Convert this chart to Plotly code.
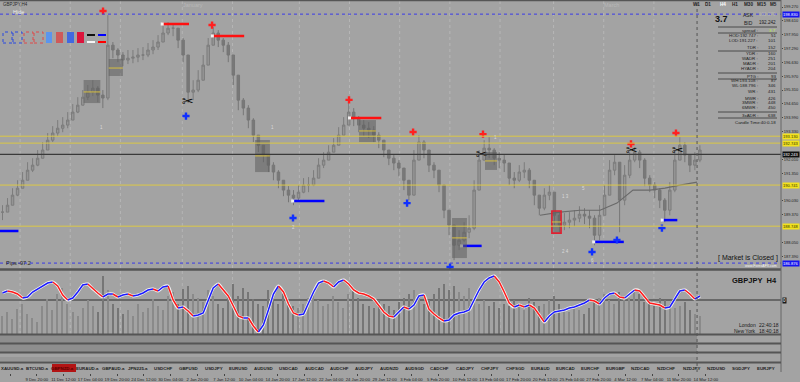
import plotly.graph_objects as go

W, H = 800, 382
PLOT_R = 781          # right edge of the plotting area (px)
BG = "#a3a3a3"
FONT = "Liberation Sans, Arial, sans-serif"

# ---------------- data ----------------
# one candle = 3 H4 bars
closes = [189.49, 189.82, 190.30, 190.63, 191.01, 191.49, 191.73, 192.06, 192.45, 192.92,
          193.26, 193.49, 193.64, 193.88, 194.26, 194.59, 194.97, 195.21, 195.40, 195.07,
          194.93, 197.45, 197.22, 196.98, 196.74, 196.83, 196.88, 196.98, 196.98, 197.22,
          197.36, 197.60, 198.03, 198.26, 198.26, 197.69, 196.98, 195.21, 195.31, 195.78,
          196.50, 197.45, 198.03, 197.69, 197.45, 196.98, 196.02, 194.83, 194.45, 193.88,
          193.16, 192.68, 192.21, 191.73, 191.40, 191.01, 190.54, 190.30, 190.16, 190.44,
          190.78, 190.78, 191.11, 191.73, 191.97, 192.35, 192.68, 193.16, 193.64, 194.26,
          193.97, 193.64, 193.49, 193.40, 193.16, 192.92, 192.45, 192.06, 191.83, 191.59,
          191.01, 190.30, 191.97, 192.83, 192.45, 191.73, 191.49, 190.78, 189.58, 188.87,
          187.91, 188.15, 188.53, 188.72, 190.54, 191.97, 192.54, 192.45, 192.06, 191.97,
          191.83, 191.11, 191.01, 191.40, 191.49, 191.01, 190.30, 189.68, 190.30, 190.44,
          189.34, 188.87, 189.01, 189.11, 189.20, 189.39, 189.30, 189.20, 188.39, 189.34,
          190.30, 191.49, 191.87, 190.06, 191.25, 191.97, 192.35, 191.97, 191.11, 190.78,
          190.54, 190.06, 189.58, 190.54, 191.97, 192.68, 192.21, 191.73, 191.97, 192.45]
highs = [189.82, 190.16, 190.63, 191.01, 191.40, 191.87, 192.06, 192.45, 192.83, 193.26,
         193.59, 193.88, 194.02, 194.26, 194.64, 194.97, 195.31, 195.55, 195.78, 195.50,
         195.31, 198.88, 197.60, 197.31, 197.12, 197.22, 197.22, 197.31, 197.36, 197.55,
         197.69, 197.93, 198.36, 198.55, 198.50, 198.26, 197.79, 196.98, 195.78, 196.26,
         196.98, 197.79, 198.31, 198.17, 197.79, 197.60, 196.98, 195.78, 194.93, 194.59,
         193.97, 193.16, 192.68, 192.21, 191.87, 191.49, 191.01, 190.73, 190.54, 190.78,
         191.11, 191.16, 191.49, 192.06, 192.35, 192.68, 193.02, 193.54, 194.02, 194.69,
         194.45, 194.07, 193.88, 193.78, 193.59, 193.30, 192.92, 192.45, 192.21, 191.97,
         191.49, 190.92, 192.45, 193.16, 192.92, 192.35, 191.87, 191.49, 190.78, 189.58,
         188.87, 188.63, 189.01, 189.34, 191.01, 192.45, 192.92, 193.06, 192.54, 192.35,
         192.21, 191.73, 191.40, 191.73, 191.87, 191.59, 191.01, 190.30, 190.63, 190.78,
         190.30, 189.49, 189.44, 189.49, 189.58, 189.77, 189.68, 189.58, 189.34, 189.82,
         190.78, 191.97, 192.21, 191.73, 191.73, 192.35, 192.59, 192.45, 192.06, 191.25,
         190.92, 190.63, 190.16, 190.92, 192.45, 193.06, 192.83, 192.21, 192.35, 192.68]
lows = [189.11, 189.49, 189.82, 190.25, 190.63, 191.01, 191.40, 191.68, 192.06, 192.45,
        192.83, 193.11, 193.30, 193.49, 193.88, 194.21, 194.59, 194.83, 195.02, 194.73,
        194.45, 194.83, 196.83, 196.64, 196.45, 196.55, 196.59, 196.64, 196.74, 196.88,
        197.02, 197.22, 197.69, 197.93, 197.88, 197.31, 196.64, 194.69, 194.83, 195.21,
        196.02, 196.74, 197.60, 197.36, 197.12, 196.64, 195.55, 194.35, 194.11, 193.49,
        192.83, 192.35, 191.87, 191.40, 191.01, 190.63, 190.25, 189.96, 189.82, 190.06,
        190.39, 190.44, 190.73, 191.25, 191.59, 191.97, 192.35, 192.78, 193.26, 193.88,
        193.59, 193.30, 193.11, 193.02, 192.83, 192.54, 192.11, 191.73, 191.49, 191.20,
        190.54, 190.06, 191.01, 192.35, 192.06, 191.40, 191.11, 190.44, 189.20, 188.39,
        187.20, 187.68, 188.06, 188.25, 188.63, 190.78, 191.97, 192.06, 191.73, 191.59,
        191.40, 190.78, 190.63, 190.92, 191.11, 190.63, 189.82, 189.34, 189.58, 190.06,
        188.87, 188.53, 188.63, 188.72, 188.82, 189.01, 188.92, 188.72, 187.91, 188.15,
        189.34, 190.30, 191.25, 188.53, 189.82, 191.11, 191.87, 191.59, 190.73, 190.44,
        190.16, 189.68, 189.01, 189.34, 190.44, 191.97, 191.87, 191.40, 191.49, 191.87]
osc_values = [7, 9, 8, 6, 2, 3, 8, 11, 14, 17, 18, 14, 5, 0, 2, 8, 15, 16, 11, 7,
              3, 6, 6, 3, 5, 6, 4, 5, 7, 10, 11, 9, 13, 14, 0, -8, -7, -11, -16, -15,
              -13, 0, 12, 16, 10, 4, -6, -16, -18, -18, -26, -32, -25, -10, 6, 14, 8, -4, -13, -15,
              -14, -3, 8, 17, 19, 17, 13, 18, 20, 16, 10, 7, 6, 4, 1, -5, -12, -16, -17, -12,
              -7, -9, -5, 4, 5, -9, -14, -18, -21, -20, -15, -13, -12, -10, 0, 10, 18, 22, 24, 18,
              8, -3, -7, -5, -7, -5, -8, -15, -22, -16, -12, -11, -10, -8, -7, -5, -3, 0, -1, -4,
              2, 6, 7, 3, 2, 6, 10, 9, 3, -3, -4, -5, -8, -7, 1, 9, 10, 6, 1, 4]
volumes = [18, 22, 15, 25, 30, 20, 16, 12, 28, 35, 24, 40, 46, 30, 22, 18, 26, 34, 28, 22,
           58, 44, 30, 26, 20, 24, 18, 30, 22, 26, 35, 28, 24, 38, 42, 30, 45, 48, 40, 36,
           32, 44, 38, 30, 26, 40, 50, 38, 46, 42, 35, 30, 28, 44, 36, 30, 40, 32, 28, 26,
           30, 36, 42, 34, 28, 30, 38, 32, 26, 40, 44, 36, 30, 28, 26, 34, 30, 28, 24, 32,
           36, 40, 44, 38, 30, 34, 40, 46, 50, 44, 48, 42, 38, 46, 36, 30, 34, 28, 32, 26,
           30, 28, 34, 30, 24, 36, 32, 28, 30, 34, 38, 30, 26, 22, 28, 24, 20, 26, 32, 36,
           40, 34, 30, 42, 38, 36, 44, 40, 32, 30, 28, 36, 34, 30, 26, 28, 32, 24, 20, 18]

CANDLE_BARS = 3
date_labels = ["5 Dec 2024", "9 Dec 20:00", "11 Dec 12:00", "17 Dec 04:00", "19 Dec 20:00",
               "24 Dec 12:00", "30 Dec 04:00", "2 Jan 20:00", "7 Jan 12:00", "10 Jan 04:00",
               "14 Jan 20:00", "17 Jan 12:00", "22 Jan 04:00", "24 Jan 20:00", "29 Jan 12:00",
               "3 Feb 04:00", "5 Feb 20:00", "10 Feb 12:00", "13 Feb 04:00", "17 Feb 20:00",
               "20 Feb 12:00", "25 Feb 04:00", "27 Feb 20:00", "4 Mar 12:00", "7 Mar 04:00",
               "11 Mar 20:00", "14 Mar 12:00"]
date_bars = [6 + 16 * k for k in range(len(date_labels))]
symbols = ["XAUUSD.a", "BTCUSD.a", "GBPNZD.a", "EURAUD.a", "GBPAUD.a", "JPN225.a", "USDCHF",
           "GBPUSD", "USDJPY", "EURUSD", "AUDUSD", "USDCAD", "AUDCAD", "AUDCHF", "AUDJPY",
           "AUDNZD", "AUDSGD", "CADCHF", "CADJPY", "CHFJPY", "CHFSGD", "EURAUD", "EURCAD",
           "EURCHF", "EURGBP", "NZDCAD", "NZDCHF", "NZDJPY", "NZDUSD", "SGDJPY", "EURJPY"]
active_symbol = "GBPNZD.a"
price_ticks = [186.73 + 0.66 * k for k in range(20)]

blue_levels = [198.93, 187.06]
blue_texts = ["198.830", "186.876"]
yellow_levels = [193.11, 192.78, 190.78, 188.82]
yellow_texts = ["193.130", "192.743", "190.741", "188.748"]
bid_level = 192.24
bid_text = "192.243"

res_price = [198.46, 197.89, 193.98]
res_x0 = [97, 127, 209]
res_x1 = [113, 146, 228]
sup_price = [188.59, 190.02, 187.88, 188.07, 189.11]
sup_x0 = [0, 175, 276, 355, 396]
sup_x1 = [11, 194, 288, 373, 405]
peak_x = [61.6, 126.8, 208.7, 247, 288.8, 377.3, 404.2]
peak_p = [199.08, 198.41, 194.84, 193.31, 193.21, 192.74, 193.26]
trough_x = [111.2, 175.2, 243.4, 269.1, 354, 368.9, 395.8]
trough_p = [194.07, 189.21, 189.92, 186.87, 187.59, 188.16, 188.73]
cut_x = [112.4, 288.2, 377.9, 405.4]
cut_p = [194.74, 192.21, 192.36, 192.40]
box_x0 = [50, 65, 152.5, 214.7, 270.3, 290, 330]
box_x1 = [60, 73.5, 161.4, 224.8, 279.2, 297.2, 335.5]
box_top = [195.79, 196.79, 192.93, 193.88, 189.21, 192.36, 189.54]
box_bot = [194.69, 195.98, 191.40, 192.83, 187.30, 191.50, 188.49]
box_mid = [195.22, 196.36, 192.17, 193.36, 188.26, 191.93, 189.02]
box_alert = [False, False, False, False, False, False, True]
ma_x = [322.9, 334.9, 346.8, 358.8, 368.9, 378.5, 388.7, 397.6, 406.6, 416.8]
ma_p = [189.34, 189.49, 189.58, 189.58, 189.92, 190.54, 190.54, 190.63, 190.78, 190.92]
week_sep_bars = [12, 42, 72, 109, 139, 179, 209, 239, 269, 299, 331, 361, 391]
now_bar = 416.8
X_BARS = 467

# ---------------- helpers ----------------
def px(x):
    return x / W


def py(y):
    return 1 - y / H


shapes = []
annotations = []


def rect(x0, y0, x1, y1, fill=None, line=None, lw=1, dash=None, layer="above"):
    d = dict(type="rect", xref="paper", yref="paper", x0=px(x0), x1=px(x1), y0=py(y1), y1=py(y0),
             fillcolor=fill if fill else "rgba(0,0,0,0)", layer=layer,
             line=dict(color=line if line else "rgba(0,0,0,0)", width=lw if line else 0))
    if dash:
        d["line"]["dash"] = dash
    shapes.append(d)


def hline(x0, x1, y, color, w=1, dash=None, layer="above"):
    d = dict(type="line", xref="paper", yref="paper", x0=px(x0), x1=px(x1), y0=py(y), y1=py(y),
             line=dict(color=color, width=w), layer=layer)
    if dash:
        d["line"]["dash"] = dash
    shapes.append(d)


def vline(x, y0, y1, color, w=1, dash=None, layer="above"):
    d = dict(type="line", xref="paper", yref="paper", x0=px(x), x1=px(x), y0=py(y0), y1=py(y1),
             line=dict(color=color, width=w), layer=layer)
    if dash:
        d["line"]["dash"] = dash
    shapes.append(d)


def text(x, y, s, size=6, color="#202020", xa="left", bold=False, bg=None, fc=None):
    if bold:
        s = "<b>" + s + "</b>"
    a = dict(xref="paper", yref="paper", x=px(x), y=py(y), text=s, showarrow=False,
             xanchor=xa, yanchor="middle", font=dict(size=size, color=color, family=fc or FONT),
             borderpad=0)
    if bg:
        a["bgcolor"] = bg
    annotations.append(a)


fig = go.Figure()

# ---------------- main price panel ----------------
xs = [i * CANDLE_BARS + CANDLE_BARS / 2 for i in range(len(closes))]
opens = [closes[0]] + closes[:-1]
hi = [max(h, o, c) for h, o, c in zip(highs, opens, closes)]
lo = [min(l, o, c) for l, o, c in zip(lows, opens, closes)]

fig.add_trace(go.Candlestick(
    x=xs, open=opens, high=hi, low=lo, close=closes, xaxis="x", yaxis="y",
    increasing=dict(line=dict(color="#7c7c7c", width=1), fillcolor="#959595"),
    decreasing=dict(line=dict(color="#767676", width=1), fillcolor="#787878"),
    whiskerwidth=0, showlegend=False, hoverinfo="skip"))

fig.add_trace(go.Scatter(x=ma_x, y=ma_p, mode="lines", line=dict(color="#6a6a6a", width=1.2),
                         xaxis="x", yaxis="y", showlegend=False, hoverinfo="skip"))

for x0, x1, t, b, m, alert in zip(box_x0, box_x1, box_top, box_bot, box_mid, box_alert):
    shapes.append(dict(type="rect", xref="x", yref="y", x0=x0, x1=x1, y0=b, y1=t,
                       fillcolor="rgba(95,95,95,0.55)",
                       line=dict(color="#e02030" if alert else "rgba(0,0,0,0)", width=1.6 if alert else 0)))
    shapes.append(dict(type="line", xref="x", yref="y", x0=x0, x1=x1, y0=m, y1=m,
                       line=dict(color="#d8c040", width=1)))

rx, ry = [], []
for p, a, b in zip(res_price, res_x0, res_x1):
    rx += [a, b, None]
    ry += [p, p, None]
fig.add_trace(go.Scatter(x=rx, y=ry, mode="lines", line=dict(color="#ff1010", width=2.5),
                         xaxis="x", yaxis="y", showlegend=False, hoverinfo="skip"))
sx, sy = [], []
for p, a, b in zip(sup_price, sup_x0, sup_x1):
    sx += [a, b, None]
    sy += [p, p, None]
fig.add_trace(go.Scatter(x=sx, y=sy, mode="lines", line=dict(color="#0000ff", width=2.5),
                         xaxis="x", yaxis="y", showlegend=False, hoverinfo="skip"))
fig.add_trace(go.Scatter(x=res_x0 + sup_x0[1:], y=res_price + sup_price[1:], mode="markers",
                         marker=dict(color="#f0f0f0", size=3, symbol="square"),
                         xaxis="x", yaxis="y", showlegend=False, hoverinfo="skip"))

fig.add_trace(go.Scatter(x=peak_x, y=peak_p, mode="markers",
                         marker=dict(symbol="cross", size=6, color="#ff2020"),
                         xaxis="x", yaxis="y", showlegend=False, hoverinfo="skip"))
fig.add_trace(go.Scatter(x=trough_x, y=trough_p, mode="markers",
                         marker=dict(symbol="cross", size=6, color="#1030ff"),
                         xaxis="x", yaxis="y", showlegend=False, hoverinfo="skip"))
fig.add_trace(go.Scatter(x=cut_x, y=cut_p, mode="text", text=["✂"] * len(cut_x),
                         textfont=dict(size=14, color="#101010", family="DejaVu Sans"),
                         xaxis="x", yaxis="y", showlegend=False, hoverinfo="skip"))

for lv in blue_levels:
    shapes.append(dict(type="line", xref="paper", yref="y", x0=0, x1=px(PLOT_R), y0=lv, y1=lv,
                       line=dict(color="#3a3ae8", width=1, dash="dot")))
for lv in yellow_levels:
    shapes.append(dict(type="line", xref="paper", yref="y", x0=0, x1=px(PLOT_R), y0=lv, y1=lv,
                       line=dict(color="#dcc845", width=1)))
shapes.append(dict(type="line", xref="paper", yref="y", x0=0, x1=px(PLOT_R), y0=bid_level, y1=bid_level,
                   line=dict(color="#3a3a3a", width=1.2)))

# right-axis level labels (they cover the tick labels lying under them)
all_levels = blue_levels + yellow_levels + [bid_level]
shown_ticks = [v for v in price_ticks if all(abs(v - lv) > 0.16 for lv in all_levels)]


def level_label(price, s, bg, fg):
    annotations.append(dict(xref="paper", yref="y", x=px(PLOT_R + 1), y=price, text=s, showarrow=False,
                            xanchor="left", yanchor="middle", bgcolor=bg, borderpad=0,
                            font=dict(size=4.1, color=fg, family=FONT)))


for lv, s in zip(blue_levels, blue_texts):
    level_label(lv, s, "#1414f0", "#ffffff")
for lv, s in zip(yellow_levels, yellow_texts):
    level_label(lv, s, "#f2e21e", "#303000")
level_label(bid_level, bid_text, "#101010", "#ffffff")

# ---------------- oscillator + volume panel ----------------
vol_col = ["#8a8a8a" if c >= o else "#767676" for o, c in zip(opens, closes)]
fig.add_trace(go.Bar(x=xs, y=volumes, width=0.9, marker=dict(color=vol_col, line=dict(width=0)),
                     xaxis="x", yaxis="y2", showlegend=False, hoverinfo="skip"))

fig.add_trace(go.Scatter(x=xs, y=osc_values, mode="lines", line=dict(color="#f4f4f4", width=3, shape="spline", smoothing=0.6),
                         xaxis="x", yaxis="y3", showlegend=False, hoverinfo="skip"))
groups = []
cur, gx, gy = None, [], []
for i in range(len(osc_values) - 1):
    col = "#ff1a1a" if osc_values[i + 1] < osc_values[i] else "#1a1aff"
    if col != cur:
        if cur:
            groups.append((cur, gx, gy))
        cur, gx, gy = col, [xs[i]], [osc_values[i]]
    gx.append(xs[i + 1])
    gy.append(osc_values[i + 1])
groups.append((cur, gx, gy))
for col, gx, gy in groups:
    fig.add_trace(go.Scatter(x=gx, y=gy, mode="lines", line=dict(color=col, width=1.5),
                             xaxis="x", yaxis="y3", showlegend=False, hoverinfo="skip"))

# ---------------- decorations ----------------
for b in week_sep_bars:
    shapes.append(dict(type="line", xref="x", yref="paper", x0=b, x1=b, y0=py(334), y1=py(0),
                       line=dict(color="#b6b6b6", width=1, dash="dot"), layer="below"))
shapes.append(dict(type="line", xref="x", yref="paper", x0=now_bar, x1=now_bar, y0=py(372), y1=py(0),
                   line=dict(color="#555555", width=1, dash="dot")))

hline(0, PLOT_R, 0.5, "#555555", 1.5)
hline(0, PLOT_R, 269.5, "#555555", 2.5)
hline(0, PLOT_R, 300, "#555555", 1.5, layer="below")
vline(PLOT_R, 0, 372, "#666666", 1)

rect(0, 335, 697, 343, fill="#8e8e8e", layer="below")
rect(0, 344, 697, 352, fill="#8e8e8e", layer="below")
rect(0, 357, 697, 361, fill="#979797", layer="below")
for yy in (334.5, 343.5, 352.5, 362.5):
    hline(0, PLOT_R, yy, "#555555", 1.8)

rect(52, 364, 76, 372, fill="#b21414")
for k, s in enumerate(symbols):
    cx = 12.5 + 25.13 * k
    text(cx, 368, s, size=4.4, color="#5a0000" if s == active_symbol else "#1e1e1e", xa="center", bold=True)

text(2, 4, "GBPJPY,H4", size=4.5, color="#2a2a2a")
text(12, 12, "Hide", size=5.5, color="#ececec")
text(182, 5, "January", size=5.5, color="#b8b8b8")
text(603, 5, "March", size=5.5, color="#b8b8b8")
rect(3, 32, 12, 43, line="#2848e0", lw=1, dash="dot")
rect(13, 32, 22, 43, line="#2848e0", lw=1, dash="dot")
rect(24, 32, 33, 43, line="#e04848", lw=1, dash="dot")
rect(34, 32, 43, 43, line="#e04848", lw=1, dash="dot")
rect(46, 32, 52, 43, fill="#5b95ee")
rect(56, 32, 63, 43, fill="#cf5a5a")
rect(67, 32, 74, 43, fill="#4169e1")
rect(77, 32, 84, 43, fill="#dc143c")
hline(87, 95, 35, "#101010", 2)
hline(87, 95, 42, "#f4f4f4", 2)
hline(98, 106, 35, "#0000ff", 2)
hline(98, 106, 42, "#ff0000", 2)

for (x, y, s) in [(101, 127, "1"), (272, 127, "1"), (495, 137, "1"), (293, 227, "2"),
                  (565, 196, "1 3"), (583, 188, "5"), (565, 251, "2 4"), (592, 260, "6")]:
    text(x, y, s, size=4.5, color="#dadada", xa="center")

for x, s in [(696, "W1"), (708, "D1"), (723, "H4"), (735, "H1"), (748, "M30"), (761, "M15"), (773, "M5")]:
    text(x, 5, s, size=4.6, color="#ffffff" if s == "H4" else "#1e1e1e", xa="center", bold=True)

text(721, 19, "3.7", size=9, color="#111111", xa="center", bold=True)
text(748, 15, "ASK", size=5, color="#202020", xa="center")
text(777, 15, "192.279", size=4.6, color="#b4b4b4", xa="right")
text(748, 23, "BID", size=5, color="#202020", xa="center")
text(777, 23, "192.242", size=4.6, color="#202020", xa="right")
for yy in (27, 33, 51, 73, 79, 112, 118):
    hline(718, 777, yy, "#4a4a4a", 1)
rows = [(30, "spread :", "3.7"), (36, "HOD:192.747 :", "51"), (41, "LOD:191.227 :", "101"),
        (47, "TDR :", "152"), (53, "YDR :", "160"), (59, "WADR :", "251"), (64, "MADR :", "201"),
        (69, "HYADR :", "204"), (76, "PTG :", "93"), (81, "WH:193.108 :", "87"),
        (86, "WL:188.796 :", "346"), (91, "WR :", "431"), (98, "MWR :", "426"),
        (103, "3MWR :", "448"), (108, "6MWR :", "450"), (115, "3xADR :", "638")]
for y, lab, val in rows:
    text(759, y, lab, size=4.4, color="#202020", xa="right")
    text(777, y, val, size=4.4, color="#b8f040" if lab.startswith("spread") else "#202020", xa="right")
text(777, 123, "Candle Time:40:0-18", size=4.4, color="#202020", xa="right")

text(5, 263, "Pips -97.2", size=5.5, color="#1e1e1e")
text(779, 258, "[ Market is Closed ]", size=7, color="#111111", xa="right")
text(778, 265.5, "www.ForexAFX.com", size=3.5, color="#f4f4f4", xa="right")
text(778, 280, "GBPJPY  H4", size=7.5, color="#111111", xa="right", bold=True)
text(757, 325, "London", size=5, color="#1a1a1a", xa="right")
text(780, 325, "22:40:18", size=5, color="#1a1a1a", xa="right")
text(757, 331, "New York", size=5, color="#1a1a1a", xa="right")
text(780, 331, "18:40:18", size=5, color="#1a1a1a", xa="right")
text(782, 300, "0", size=4.5, color="#ffffff", bg="#1a1a1a")

fig.update_layout(
    width=W, height=H, margin=dict(l=0, r=0, t=0, b=0, autoexpand=False),
    paper_bgcolor=BG, plot_bgcolor=BG, showlegend=False, bargap=0,
    font=dict(family=FONT, size=6, color="#202020"),
    xaxis=dict(domain=[0, PLOT_R / W], range=[0, X_BARS], anchor="free", position=py(373),
               tickvals=date_bars, ticktext=date_labels, tickfont=dict(size=4.2, color="#222222"),
               tickangle=0, automargin=False,
               ticks="outside", ticklen=2, tickcolor="#444444", showgrid=False, zeroline=False,
               showline=False, rangeslider=dict(visible=False), fixedrange=True),
    yaxis=dict(domain=[py(269), 1], range=[186.778, 199.604], anchor="x", side="right",
               tickvals=shown_ticks, ticktext=[f"{v:.3f}" for v in shown_ticks], automargin=False,
               tickfont=dict(size=4.0, color="#222222"), ticks="outside", ticklen=1,
               tickcolor="#444444", showgrid=False, zeroline=False, showline=False, fixedrange=True),
    yaxis2=dict(domain=[py(334), py(270)], range=[0, 64], anchor="x", side="right", automargin=False,
                showticklabels=False, showgrid=False, zeroline=False, showline=False, fixedrange=True),
    yaxis3=dict(overlaying="y2", range=[-34, 30], anchor="x", side="right", visible=False, automargin=False,
                showgrid=False, zeroline=False, fixedrange=True),
    shapes=shapes, annotations=annotations,
)

fig.write_html("out.html")
